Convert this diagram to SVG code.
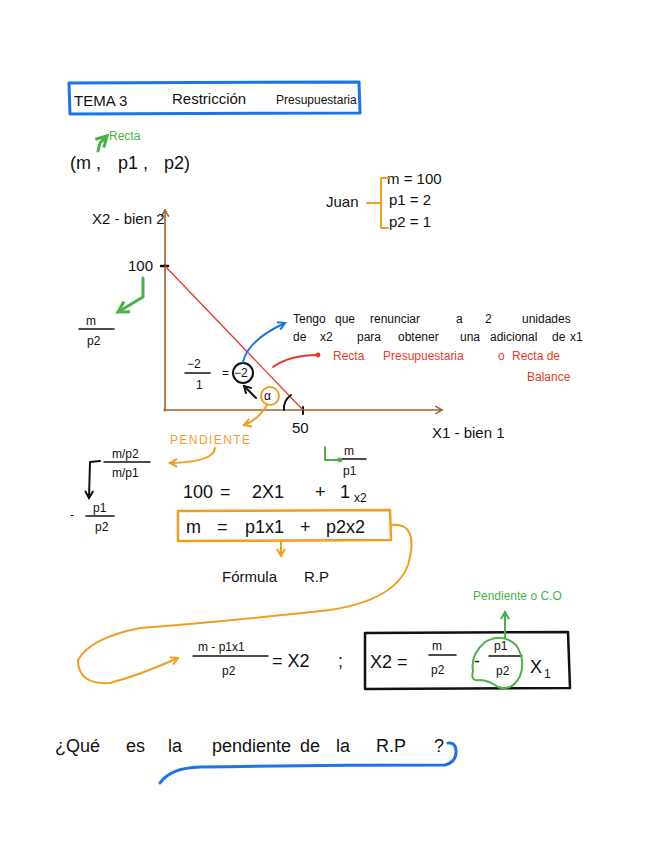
<svg xmlns="http://www.w3.org/2000/svg" width="648" height="848" viewBox="0 0 648 848">
<defs>
<style>
text{font-family:"Liberation Sans","DejaVu Sans",sans-serif;fill:#111}
.k{font-size:15px}
.s{font-size:12px}
.b{font-size:18px}
.g{fill:#4cb04a}
.o{fill:#f29d1f}
.r{fill:#e8392b}
.ln{fill:none;stroke-linecap:round;stroke-linejoin:round}
.blue{stroke:#1a73e8}
.green{stroke:#4cb04a}
.orange{stroke:#f29d1f}
.red{stroke:#e8392b}
.blk{stroke:#111}
.brown{stroke:#a0622d}
</style>
<marker id="ab" viewBox="0 0 10 10" refX="8" refY="5" markerWidth="5" markerHeight="5" orient="auto"><path d="M1,1 L8,5 L1,9" fill="none" stroke="#1a73e8" stroke-width="2"/></marker>
<marker id="ag" viewBox="0 0 10 10" refX="8" refY="5" markerWidth="5" markerHeight="5" orient="auto"><path d="M1,1 L8,5 L1,9" fill="none" stroke="#4cb04a" stroke-width="2"/></marker>
<marker id="ao" viewBox="0 0 10 10" refX="8" refY="5" markerWidth="5" markerHeight="5" orient="auto"><path d="M1,1 L8,5 L1,9" fill="none" stroke="#f29d1f" stroke-width="2"/></marker>
<marker id="ak" viewBox="0 0 10 10" refX="8" refY="5" markerWidth="5" markerHeight="5" orient="auto"><path d="M1,1 L8,5 L1,9" fill="none" stroke="#111" stroke-width="2"/></marker>
<marker id="an" viewBox="0 0 10 10" refX="8" refY="5" markerWidth="6" markerHeight="6" orient="auto"><path d="M1,1 L8,5 L1,9" fill="none" stroke="#a0622d" stroke-width="1.6"/></marker>
<marker id="dr" viewBox="0 0 10 10" refX="5" refY="5" markerWidth="3" markerHeight="3"><circle cx="5" cy="5" r="4" fill="#e8392b"/></marker>
<marker id="dg" viewBox="0 0 10 10" refX="5" refY="5" markerWidth="3" markerHeight="3"><circle cx="5" cy="5" r="4" fill="#4cb04a"/></marker>
</defs>
<rect width="648" height="848" fill="#fff"/>

<g id="title">
<path class="ln blue" stroke-width="3" d="M69,83 L359,82 L360,113 L70,114 Z"/>
<text class="k" x="74" y="106">TEMA 3</text>
<text class="k" x="172" y="104">Restricción</text>
<text class="s" x="276" y="104">Presupuestaria</text>
</g>

<g id="tuple">
<text class="s g" x="109" y="140" font-size="10">Recta</text>
<text class="b" x="70" y="169" font-size="21"><tspan x="70">(m ,</tspan><tspan x="118">p1 ,</tspan><tspan x="164">p2)</tspan></text>
</g>

<g id="juan">
<text class="k" x="326" y="207" font-size="16">Juan</text>
<text class="k" x="387" y="184">m = 100</text>
<text class="k" x="389" y="205">p1 = 2</text>
<text class="k" x="389" y="227">p2 = 1</text>
</g>

<g id="axes">
<line class="ln brown" stroke-width="1.6" x1="165" y1="411" x2="165" y2="210" marker-end="url(#an)"/>
<line class="ln brown" stroke-width="1.6" x1="164" y1="410" x2="442" y2="410" marker-end="url(#an)"/>
<text class="k" x="92" y="224" font-size="16">X2 - bien 2</text>
<text class="k" x="432" y="438" font-size="16">X1 - bien 1</text>
<text class="k" x="128" y="271">100</text>
<text class="k" x="292" y="433">50</text>
<line class="ln blk" stroke-width="2.5" x1="161" y1="266" x2="168" y2="266"/>
<line class="ln blk" stroke-width="2" x1="303" y1="407" x2="303" y2="414"/>
</g>

<g id="budget-line">
<line class="ln red" stroke-width="1.3" x1="165" y1="266" x2="303" y2="410"/>
</g>

<g id="m-p2">
<text class="s" x="86" y="325">m</text>
<line class="ln blk" stroke-width="1.5" x1="79" y1="329" x2="114" y2="329"/>
<text class="s" x="87" y="345">p2</text>
</g>

<g id="m-p1">
<text class="s" x="344" y="455">m</text>
<line class="ln blk" stroke-width="1.5" x1="338" y1="459" x2="366" y2="459"/>
<text class="s" x="343" y="475">p1</text>
</g>

<g id="renunciar">
<text class="s" x="293" y="323" font-size="13"><tspan x="293">Tengo</tspan><tspan x="335">que</tspan><tspan x="370">renunciar</tspan><tspan x="456">a</tspan><tspan x="485">2</tspan><tspan x="522">unidades</tspan></text>
<text class="s" x="293" y="341" font-size="13"><tspan x="293">de</tspan><tspan x="320">x2</tspan><tspan x="357">para</tspan><tspan x="398">obtener</tspan><tspan x="460">una</tspan><tspan x="490">adicional</tspan><tspan x="552">de</tspan><tspan x="570">x1</tspan></text>
</g>

<g id="recta-label">
<text class="s r" x="333" y="360" font-size="13"><tspan x="333">Recta</tspan><tspan x="383">Presupuestaria</tspan><tspan x="498">o</tspan><tspan x="512">Recta de</tspan></text>
<text class="s r" x="527" y="381" font-size="13">Balance</text>
</g>

<g id="slope-frac">
<text class="s" x="187" y="368">−2</text>
<line class="ln blk" stroke-width="1.5" x1="185" y1="373" x2="210" y2="373"/>
<text class="s" x="196" y="389">1</text>
<text class="s" x="222" y="377">=</text>
<circle class="ln blk" stroke-width="2" cx="243" cy="373" r="10"/>
<text class="s" x="234" y="377">−2</text>
</g>

<g id="alpha">
<circle class="ln orange" stroke-width="2" cx="270" cy="396" r="9"/>
<text class="s" x="264" y="400">α</text>
<path class="ln blk" stroke-width="2" d="M284,410 Q283,401 291,395"/>
</g>

<g id="pendiente">
<text class="s o" x="170" y="444" textLength="80">PENDIENTE</text>
</g>

<g id="ratio">
<text class="s" x="112" y="458">m/p2</text>
<line class="ln blk" stroke-width="1.5" x1="104" y1="462" x2="150" y2="462"/>
<text class="s" x="112" y="477">m/p1</text>
<text class="s" x="70" y="519">-</text>
<text class="s" x="93" y="512">p1</text>
<line class="ln blk" stroke-width="1.5" x1="86" y1="516" x2="114" y2="516"/>
<text class="s" x="95" y="531">p2</text>
</g>

<g id="equations">
<text class="b" x="183" y="498" font-size="17"><tspan x="183">100</tspan><tspan x="220">=</tspan><tspan x="252">2X1</tspan><tspan x="315">+</tspan><tspan x="340">1</tspan></text>
<text class="s" x="354" y="502">x2</text>
<path class="ln orange" stroke-width="2.5" d="M178,511 L390,510 L391,540 L178,541 Z"/>
<text class="b" x="185" y="533" font-size="17"><tspan x="186">m</tspan><tspan x="217">=</tspan><tspan x="245">p1x1</tspan><tspan x="300">+</tspan><tspan x="326">p2x2</tspan></text>
<text class="k" x="222" y="582" font-size="16"><tspan x="222">Fórmula</tspan><tspan x="304">R.P</tspan></text>
</g>

<g id="x2-frac">
<text class="s" x="198" y="651">m - p1x1</text>
<line class="ln blk" stroke-width="1.5" x1="193" y1="656" x2="268" y2="656"/>
<text class="s" x="222" y="675">p2</text>
<text class="b" x="272" y="667">= X2</text>
<text class="b" x="338" y="667">;</text>
</g>

<g id="boxed-eq">
<path class="ln blk" stroke-width="2.5" d="M365,633 L568,632 L570,688 L365,689 Z"/>
<text class="b" x="370" y="668">X2 =</text>
<text class="s" x="432" y="650">m</text>
<line class="ln blk" stroke-width="1.5" x1="429" y1="655" x2="456" y2="655"/>
<text class="s" x="431" y="674">p2</text>
<text class="b" x="474" y="667">-</text>
<text class="s" x="494" y="650">p1</text>
<line class="ln blk" stroke-width="1.5" x1="489" y1="656" x2="522" y2="656"/>
<text class="s" x="496" y="675">p2</text>
<text class="b" x="530" y="673">X</text>
<text class="s" x="544" y="678">1</text>
<path class="ln green" stroke-width="2" d="M473,671 Q470,655 485,642 Q502,632 516,645 Q526,660 520,676 Q512,692 498,687 Q488,680 480,680 Q470,682 473,671 Z"/>
<text class="s g" x="473" y="600">Pendiente o C.O</text>
</g>

<g id="question">
<text class="b" x="55" y="752"><tspan x="55">¿Qué</tspan><tspan x="126">es</tspan><tspan x="168">la</tspan><tspan x="212">pendiente</tspan><tspan x="300">de</tspan><tspan x="336">la</tspan><tspan x="376">R.P</tspan><tspan x="434">?</tspan></text>
</g>

<g id="connectors">
<path class="ln green" stroke-width="3" d="M98,151 L100,143 L107,136" marker-end="url(#ag)"/>
<path class="ln orange" stroke-width="2" d="M389,178 L381,178 L381,228 L388,228 M367,203 L381,203"/>
<path class="ln green" stroke-width="3" d="M143,278 L143,297 L118,312" marker-end="url(#ag)"/>
<path class="ln blue" stroke-width="2" d="M243,362 Q248,340 285,323" marker-end="url(#ab)"/>
<path class="ln red" stroke-width="2" d="M273,367 Q290,355 318,355" marker-end="url(#dr)"/>
<path class="ln blk" stroke-width="2" d="M256,398 L244,386" marker-end="url(#ak)"/>
<path class="ln orange" stroke-width="2" d="M267,405 Q258,420 244,425" marker-end="url(#ao)"/>
<path class="ln orange" stroke-width="2" d="M215,448 Q214,462 170,463" marker-end="url(#ao)"/>
<path class="ln green" stroke-width="2" d="M325,447 L325,460 L340,460" marker-end="url(#dg)"/>
<path class="ln blk" stroke-width="2" d="M100,461 L90,462 L89,498" marker-end="url(#ak)"/>
<path class="ln orange" stroke-width="2" d="M281,541 L281,556" marker-end="url(#ao)"/>
<path class="ln orange" stroke-width="2" d="M391,525 Q420,522 408,565 Q395,600 330,610 Q220,622 140,628 Q90,638 78,660 Q78,685 110,683 Q140,675 178,658" marker-end="url(#ao)"/>
<path class="ln green" stroke-width="2" d="M505,638 L505,612" marker-end="url(#ag)"/>
<path class="ln blue" stroke-width="3" d="M160,783 Q170,768 200,767 Q320,765 445,765 Q457,762 456,750 Q455,742 448,743"/>
</g>
</svg>
